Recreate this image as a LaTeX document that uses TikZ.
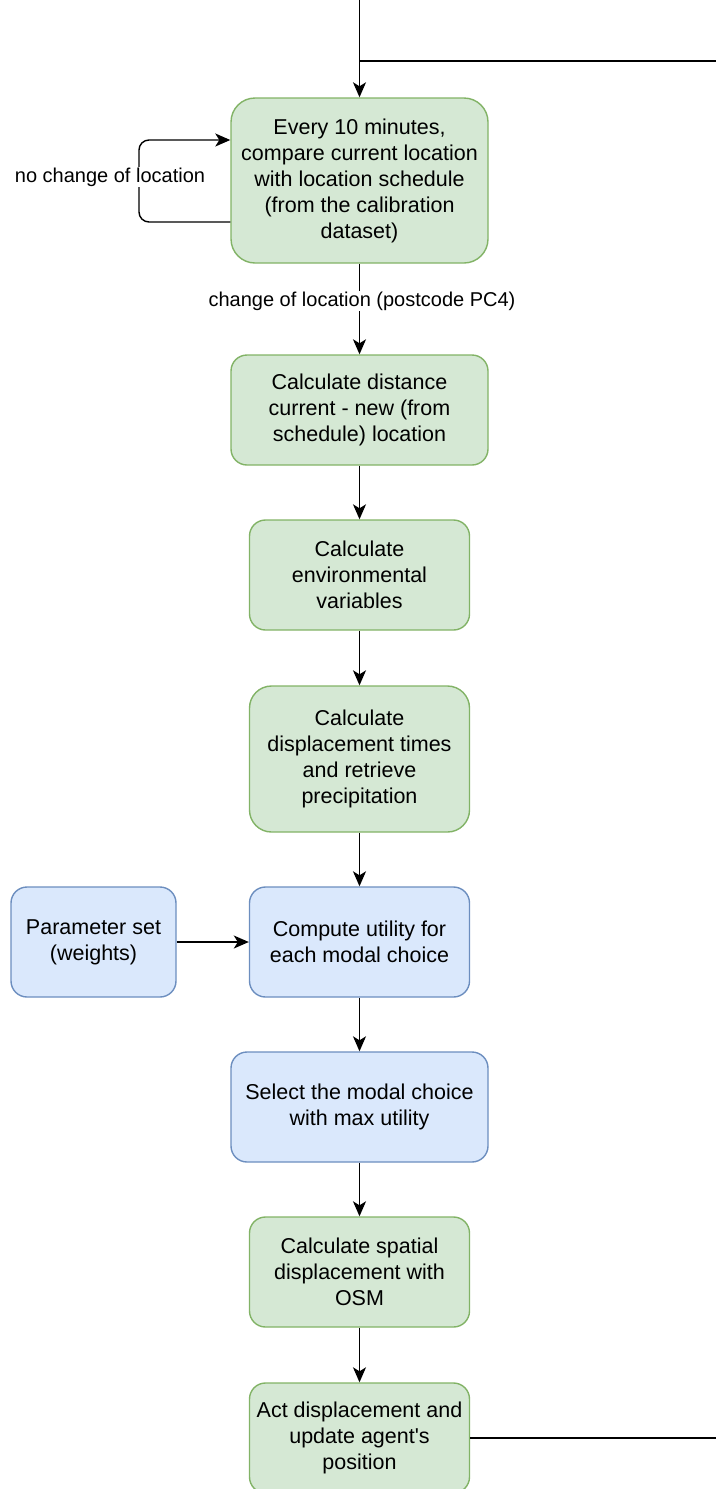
\documentclass[tikz,border=0pt]{standalone}
\usepackage{fontspec}
\setmainfont{Liberation Sans}
\usetikzlibrary{arrows.meta,calc}
\definecolor{gfill}{HTML}{D5E8D4}
\definecolor{gline}{HTML}{82B366}
\definecolor{bfill}{HTML}{DAE8FC}
\definecolor{bline}{HTML}{6C8EBF}
\begin{document}
\begin{tikzpicture}[x=1pt,y=-1pt,
  box/.style={line width=1.4pt, align=center, inner sep=0pt, font=\fontsize{21.5}{26}\selectfont, minimum height=110pt, rounded corners=16pt},
  gbox/.style={box, draw=gline, fill=gfill},
  bbox/.style={box, draw=bline, fill=bfill},
  conn/.style={line width=1.4pt, draw=black},
  arr/.style={conn, -{Stealth[length=15pt,width=13pt,inset=4pt]}},
  lbl/.style={fill=white, font=\fontsize{20}{24}\selectfont, inner sep=1pt}
]
\useasboundingbox (0,0) rectangle (716,1489);

\node[gbox, minimum width=257pt, minimum height=165pt, rounded corners=24pt] (b1) at (359.5,180.5)
  {Every 10 minutes,\\compare current location\\with location schedule\\(from the calibration\\dataset)};
\node[gbox, minimum width=257pt] (b2) at (359.5,410)
  {Calculate distance\\current - new (from\\schedule) location};
\node[gbox, minimum width=220pt] (b3) at (359.5,575)
  {Calculate\\environmental\\variables};
\node[gbox, minimum width=220pt, minimum height=146pt, rounded corners=22pt] (b4) at (359.5,759)
  {Calculate\\displacement times\\and retrieve\\precipitation};
\node[bbox, minimum width=220pt] (b5) at (359.5,942)
  {Compute utility for\\each modal choice};
\node[bbox, minimum width=165pt] (p) at (93.5,942)
  {Parameter set\\(weights)};
\node[bbox, minimum width=257pt] (b6) at (359.5,1107)
  {Select the modal choice\\with max utility};
\node[gbox, minimum width=220pt] (b7) at (359.5,1272)
  {Calculate spatial\\displacement with\\OSM};
\node[gbox, minimum width=220pt] (b8) at (359.5,1438)
  {Act displacement and\\update agent\textquotesingle s\\position};

\coordinate (top) at (359.5,0);
\coordinate (j) at (359.5,61);
\coordinate (r1) at (716,61);
\coordinate (r2) at (716,1438);
\coordinate (ylow) at (0,222);
\coordinate (yhigh) at (0,140);
\coordinate (lx1) at (139,222);
\coordinate (lx2) at (139,140);

\draw[arr] (top) -- (b1);
\draw[conn] (j) -- (r1);
\draw[arr, rounded corners=10pt] (b1.west |- ylow) -- (lx1) -- (lx2) -- (b1.west |- yhigh);
\node[lbl] (nl) at (110,177) {no change of location};

\draw[arr] (b1) -- (b2);
\node[lbl] (cl) at (362,301) {change of location (postcode PC4)};
\draw[arr] (b2) -- (b3);
\draw[arr] (b3) -- (b4);
\draw[arr] (b4) -- (b5);
\draw[arr] (p) -- (b5);
\draw[arr] (b5) -- (b6);
\draw[arr] (b6) -- (b7);
\draw[arr] (b7) -- (b8);
\draw[conn] (b8.east) -- (r2);
\end{tikzpicture}
\end{document}
